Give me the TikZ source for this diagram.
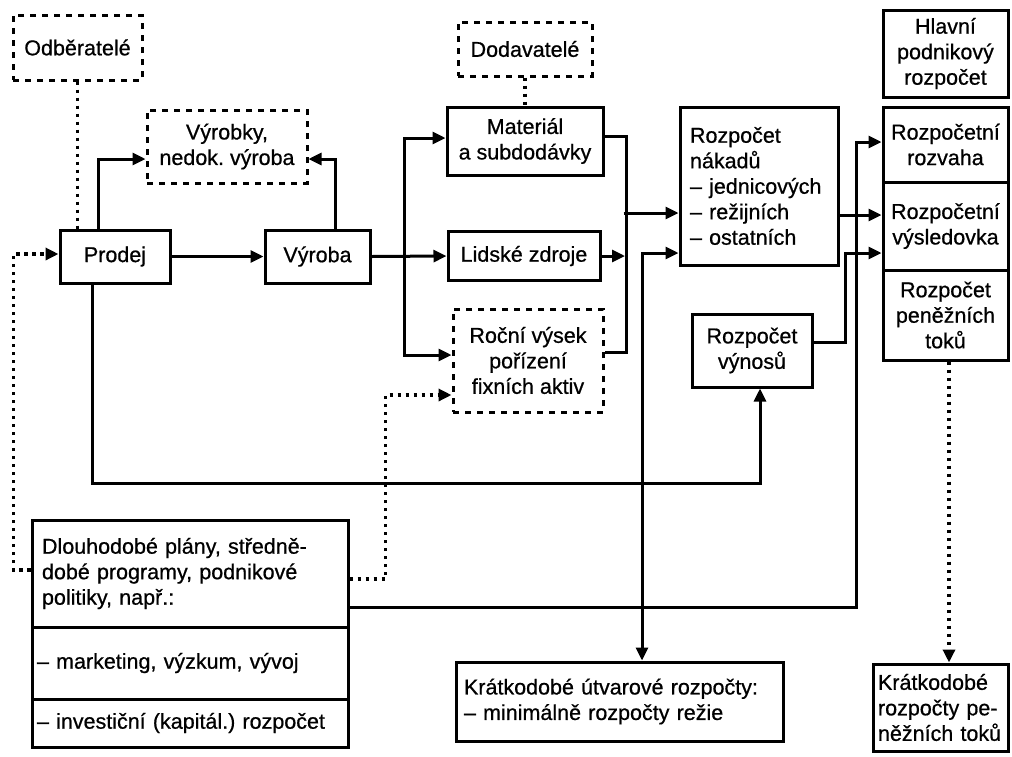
\documentclass[tikz,border=0pt]{standalone}
\usepackage{fontspec}
\setmainfont{Liberation Sans}[FakeBold=0.7]
\usetikzlibrary{arrows.meta,calc}
\begin{document}
\begin{tikzpicture}[x=1pt,y=-1pt,
  font=\fontsize{21.5}{25.5}\selectfont\frenchspacing,
  box/.style={draw, line width=3pt, inner sep=0pt, align=center},
  dbox/.style={box, dash pattern=on 6pt off 6pt},
  ln/.style={line width=3pt},
  arr/.style={ln, -{Triangle[length=13pt,width=12pt]}},
  dln/.style={line width=3.4pt, dash pattern=on 3.4pt off 4.6pt},
  darr/.style={dln, -{Triangle[length=13pt,width=12pt]}},
]
\useasboundingbox (0,0) rectangle (1012,756);

\node[dbox, minimum width=129, minimum height=65] (odb) at (77.5,47.5) {Odběratelé};
\node[dbox, minimum width=160, minimum height=73] (vyr) at (227,146.5) {Výrobky,\\nedok. výroba};
\node[box, minimum width=110, minimum height=53] (prodej) at (115,256.5) {Prodej};
\node[box, minimum width=105, minimum height=53] (vyroba) at (317.5,256.5) {Výroba};
\node[dbox, minimum width=134, minimum height=54] (dod) at (525,49) {Dodavatelé};
\node[box, minimum width=156, minimum height=68] (mat) at (525,141) {Materiál\\a subdodávky};
\node[box, minimum width=152, minimum height=49] (lid) at (524,256) {Lidské zdroje};
\node[dbox, minimum width=150, minimum height=103] (rocni) at (528,360.5) {Roční výsek\\pořízení\\fixních aktiv};
\node[box, minimum width=158, minimum height=158, text width=138, inner xsep=10, align=left] (nak) at (759,186) {Rozpočet\\nákadů\\– jednicových\\– režijních\\– ostatních};
\node[box, minimum width=120, minimum height=73] (vyn) at (752,350.5) {Rozpočet\\výnosů};
\node[box, minimum width=125, minimum height=87] (hlavni) at (945.5,53.5) {Hlavní\\podnikový\\rozpočet};
\node[box, minimum width=125, minimum height=75] (rozv) at (945.5,144.5) {Rozpočetní\\rozvaha};
\node[box, minimum width=125, minimum height=88] (vysl) at (945.5,226) {Rozpočetní\\výsledovka};
\node[box, minimum width=125, minimum height=90] (pen) at (945.5,315) {Rozpočet\\peněžních\\toků};
\node[box, minimum width=316, minimum height=107, text width=296, inner xsep=10, align=left] (dl1) at (190,573.5) {Dlouhodobé plány, středně-\\dobé programy, podnikové\\politiky, např.:};
\node[box, minimum width=316, minimum height=72, text width=306, inner xsep=5, align=left] (dl2) at (190,663) {– marketing, výzkum, vývoj};
\node[box, minimum width=316, minimum height=48, text width=306, inner xsep=5, align=left] (dl3) at (190,723) {– investiční (kapitál.) rozpočet};
\node[box, minimum width=327, minimum height=79, text width=311, inner xsep=8, align=left] (kut) at (619.5,701.5) {Krátkodobé útvarové rozpočty:\\– minimálně rozpočty režie};
\node[box, minimum width=135, minimum height=87, text width=125, inner xsep=5, align=left] (kpt) at (940.5,707.5) {Krátkodobé\\rozpočty pe-\\něžních toků};

% connectors
\draw[dln] (odb.south) -- (odb.south |- prodej.north);
\draw[dln] (dod.south) -- (mat.north);
\draw[arr] ($(prodej.north)+(-17,0)$) |- ($(vyr.west)+(0,12.5)$);
\draw[arr] ($(vyroba.north)+(17.5,0)$) |- ($(vyr.east)+(0,12.5)$);
\draw[arr] (prodej.east) -- (vyroba.west);
\draw[arr] (vyroba.east) -- (lid.west);
\coordinate (br) at ($(vyroba.east)+(33,0)$);
\draw[arr] (br) |- ($(mat.west)+(0,-3)$);
\draw[arr] (br) |- ($(rocni.west)+(0,-5.5)$);
\draw[ln] ($(mat.east)+(0,-5)$) -| ($(rocni.east)+(22,-8)$) -- ($(rocni.east)+(0,-8)$);
\draw[arr] ($(nak.west)+(-55,27)$) -- ($(nak.west)+(0,27)$);
\draw[arr] (lid.east) -- ($(lid.east)+(23.5,0)$);

\coordinate (dj) at ($(dl1.east)+(0,33.5)$);
\draw[arr] (dj) -| ($(rozv.west)+(-25,-2.5)$) -- ($(rozv.west)+(0,-2.5)$);
\coordinate (kx) at ($(kut.north)+(22.5,0)$);
\draw[arr] (kx |- dj) -- (kx);
\draw[arr] (kx |- dj) |- ($(nak.west)+(0,67)$);

\draw[arr] ($(prodej.south)+(-23,0)$) |- ($(vyn.south)+(8,95)$) -- ($(vyn.south)+(8,0)$);
\draw[arr] ($(vyn.east)+(0,-8.5)$) -| ($(vysl.west)+(-36,27)$) -- ($(vysl.west)+(0,27)$);
\draw[arr] ($(nak.east)+(0,29)$) -- ($(vysl.west)+(0,-11)$);
\draw[darr] ($(pen.south)+(3.5,0)$) -- ($(kpt.north)+(8.5,0)$);
\draw[darr] ($(dl1.west)+(0,-3.5)$) -| ($(prodej.west)+(-45,-2.5)$) -- ($(prodej.west)+(0,-2.5)$);
\draw[darr] ($(dl1.east)+(0,5.5)$) -| ($(rocni.west)+(-66,34.5)$) -- ($(rocni.west)+(0,34.5)$);
\end{tikzpicture}
\end{document}
